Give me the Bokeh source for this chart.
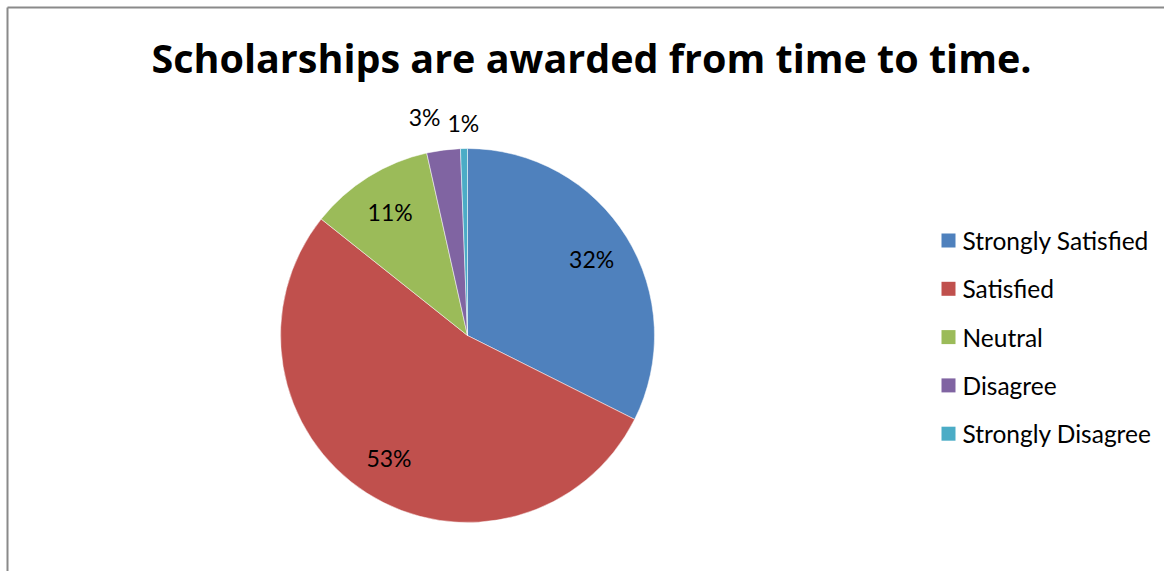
import math
from bokeh.plotting import figure
from bokeh.models import Range1d, ColumnDataSource
from bokeh.core.properties import value
from bokeh.embed import file_html
from bokeh.resources import INLINE

title = "Scholarships are awarded from time to time."
categories = ["Strongly Satisfied", "Satisfied", "Neutral", "Disagree", "Strongly Disagree"]
percents = [32.4, 53.3, 10.8, 2.9, 0.6]
colors = ["#4F81BD", "#C0504D", "#9BBB59", "#8064A2", "#4BACC6"]

W, H = 1164, 571
p = figure(width=W, height=H, output_backend="svg", toolbar_location=None,
           x_range=Range1d(0, W), y_range=Range1d(H, 0),
           min_border=0, outline_line_color=None)
p.axis.visible = False
p.grid.visible = False
p.background_fill_color = "white"

# chart frame (left and top edges visible)
p.segment(x0=[7, 7], y0=[7, 7], x1=[7, W], y1=[H, 7],
          line_color="#8a8a8a", line_width=2)

cx, cy, R = 467, 335, 187
total = sum(percents)
cum = 0.0
starts, ends, lx, ly, labels = [], [], [], [], []
nudge_x = [0, 0, 0, -15, 0]
nudge_y = [0, 0, 0, -3, 4]
for i, v in enumerate(percents):
    a0 = cum / total
    a1 = (cum + v) / total
    cum += v
    starts.append(math.pi / 2 - 2 * math.pi * a1)
    ends.append(math.pi / 2 - 2 * math.pi * a0)
    mid = 2 * math.pi * (a0 + a1) / 2
    r = R * 0.78 if v >= 5 else R + 30
    lx.append(cx + r * math.sin(mid) + nudge_x[i])
    ly.append(cy - r * math.cos(mid) + nudge_y[i])
    labels.append(f"{round(v)}%")

src = ColumnDataSource(dict(start=starts, end=ends, color=colors, cat=categories))
p.wedge(x=cx, y=cy, radius=R, start_angle="start", end_angle="end",
        fill_color="color", line_color="white", line_width=0.5, source=src)

p.text(x=lx, y=ly, text=labels, text_font=value("Lato"), text_font_size="23px",
       text_align="center", text_baseline="middle", text_color="black")

# title
p.text(x=[591], y=[57], text=[title], text_font=value("Open Sans"), text_font_size="39.5px",
       text_font_style="bold", text_align="center", text_baseline="middle",
       text_color="black")

# legend
ly0 = [240 + 48.3 * i for i in range(len(categories))]
p.scatter(x=[948] * len(categories), y=ly0, marker="square", size=14,
          fill_color=colors, line_color=None)
p.text(x=[962] * len(categories), y=ly0, text=categories, text_font=value("Lato"),
       text_font_size="24.5px", text_align="left", text_baseline="middle", text_color="black")

open("out.html", "w").write(file_html(p, INLINE))
